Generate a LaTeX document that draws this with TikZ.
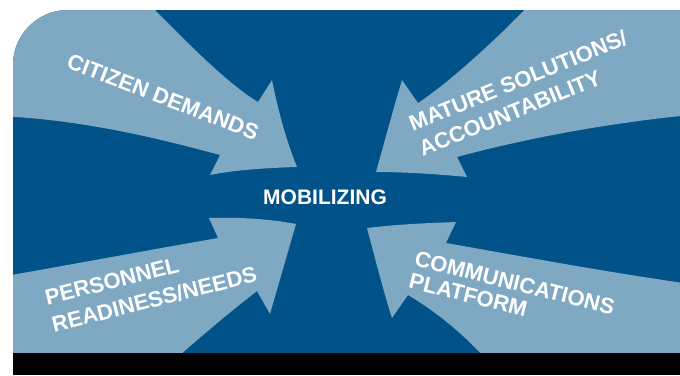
\documentclass[tikz,border=0pt]{standalone}
\usepackage{fontspec}
\setmainfont{Liberation Sans}
\definecolor{deepblue}{RGB}{0,82,137}
\definecolor{paleblue}{RGB}{127,168,195}

\begin{document}
\begin{tikzpicture}[x=1pt,y=-1pt,inner sep=0pt,
  flow/.style={fill=paleblue},
  lbl/.style={text=white,font=\bfseries\fontsize{22}{#1}\selectfont,align=left},
  lbl/.default=28]
\useasboundingbox (0,0) rectangle (680,375);
\fill[white] (0,0) rectangle (680,375);
\begin{scope}
\path[clip] (13,353) -- (13,65) .. controls (13,34.6) and (37.6,10) .. (68,10)
  -- (680,10) -- (680,353) -- cycle;
\fill[deepblue] (0,0) rectangle (680,375);
\fill[flow] (0,0) -- (145,0) .. controls (185,40) and (225,82) .. (258,102)
  -- (272,80) .. controls (278,110) and (286,140) .. (297,167)
  .. controls (265,168) and (235,170) .. (210,175) -- (220,155)
  .. controls (150,136) and (80,120) .. (0,116) -- cycle;
\fill[flow] (534,0) -- (690,0) -- (690,115)
  .. controls (600,124) and (520,140) .. (457,157) -- (467,177)
  .. controls (435,174) and (405,172) .. (376,172)
  .. controls (385,140) and (393,110) .. (402,80) -- (418,103)
  .. controls (450,82) and (500,36) .. (534,0) -- cycle;
\fill[flow] (0,277) .. controls (80,263) and (160,248) .. (218,238)
  -- (209,218) .. controls (240,217) and (270,219) .. (296,224)
  -- (270,314) -- (257,291)
  .. controls (230,312) and (200,337) .. (170,364) -- (0,364) -- cycle;
\fill[flow] (367,228) .. controls (400,224) and (430,223) .. (456,222)
  -- (446,243) .. controls (520,256) and (600,271) .. (690,284)
  -- (690,364) -- (490,364) .. controls (470,340) and (440,314) .. (408,295)
  -- (392,318) .. controls (383,290) and (375,258) .. (367,228) -- cycle;
\end{scope}
\fill[black] (13,353) rectangle (680,375);
\node at (325,197) [lbl,font=\bfseries\fontsize{21}{25}\selectfont] (Mobilizing) {MOBILIZING};
\node at (163,97) [lbl,rotate=-21] (Citizen) {CITIZEN DEMANDS};
\node at (523,93) [lbl=27,rotate=22] (Mature) {MATURE SOLUTIONS/\\ACCOUNTABILITY};
\node at (151,286) [lbl=28,rotate=14] (Personnel) {PERSONNEL\\READINESS/NEEDS};
\node at (512,294) [lbl=23,rotate=-14] (Comms) {COMMUNICATIONS\\PLATFORM};
\end{tikzpicture}
\end{document}
